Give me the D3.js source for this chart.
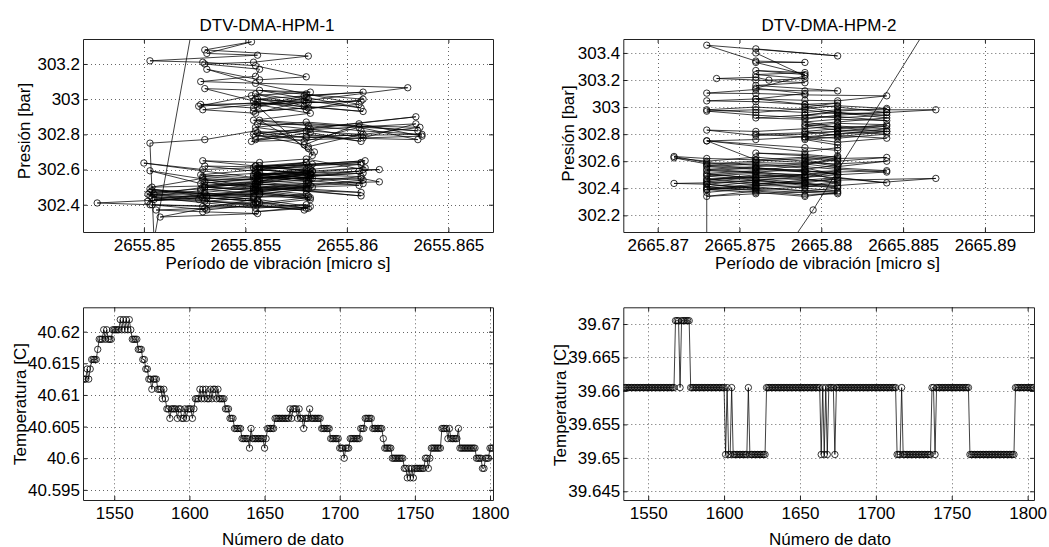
<!DOCTYPE html>
<html>
<head>
<meta charset="utf-8">
<script src="https://cdn.jsdelivr.net/npm/d3@7"></script>
<style>
  body { margin: 0; background: #fff; }
  svg text { font-family: "Liberation Sans", Arial, Helvetica, sans-serif; font-size: 17px; fill: #000; }
</style>
</head>
<body>
<svg id="fig"></svg>
<script>
// --- HPM-1: periodo de vibracion vs presion ---
const periodHPM1 = [
  2655.8533, 2655.8505, 2655.8503, 2655.853, 2655.8555, 2655.858, 2655.8608, 2655.8636, 2655.8556, 2655.8581,
  2655.8634, 2655.8554, 2655.8579, 2655.8606, 2655.8637, 2655.8553, 2655.8582, 2655.8607, 2655.8555, 2655.858,
  2655.8635, 2655.8557, 2655.8581, 2655.8583, 2655.8556, 2655.8579, 2655.8608, 2655.8555, 2655.8581, 2655.8528,
  2655.8554, 2655.858, 2655.8607, 2655.8555, 2655.8579, 2655.8608, 2655.8556, 2655.8527, 2655.8553, 2655.8582,
  2655.853, 2655.8554, 2655.858, 2655.8608, 2655.8557, 2655.8581, 2655.8529, 2655.8555, 2655.8579, 2655.863,
  2655.8528, 2655.8555, 2655.8557, 2655.853, 2655.8554, 2655.8581, 2655.853, 2655.8553, 2655.8531, 2655.8556,
  2655.8503, 2655.8529, 2655.8555, 2655.858, 2655.8557, 2655.8531, 2655.8555, 2655.858, 2655.8606, 2655.8554,
  2655.8581, 2655.8556, 2655.858, 2655.8607, 2655.8555, 2655.8582, 2655.8554, 2655.8581, 2655.8607, 2655.8637,
  2655.858, 2655.8555, 2655.8582, 2655.8608, 2655.8634, 2655.8556, 2655.8579, 2655.8606, 2655.8635, 2655.8555,
  2655.858, 2655.8607, 2655.8581, 2655.8584, 2655.858, 2655.8554, 2655.8529, 2655.85, 2655.8557, 2655.8582,
  2655.8528, 2655.8503, 2655.8555, 2655.853, 2655.8504, 2655.8554, 2655.8527, 2655.8502, 2655.8556, 2655.8531,
  2655.8477, 2655.8503, 2655.8529, 2655.8555, 2655.8505, 2655.853, 2655.8554, 2655.8581, 2655.8503, 2655.8528,
  2655.8557, 2655.8504, 2655.8531, 2655.8555, 2655.858, 2655.8506, 2655.8529, 2655.8556, 2655.8508, 2655.853,
  2655.8554, 2655.8503, 2655.8528, 2655.8557, 2655.8582, 2655.8505, 2655.853, 2655.8555, 2655.8502, 2655.8529,
  2655.8556, 2655.8581, 2655.8504, 2655.8531, 2655.8554, 2655.8579, 2655.8503, 2655.8528, 2655.8555, 2655.858,
  2655.8607, 2655.8556, 2655.853, 2655.8554, 2655.8581, 2655.8504, 2655.8529, 2655.8557, 2655.8582, 2655.8608,
  2655.8555, 2655.8528, 2655.8556, 2655.858, 2655.8609, 2655.8554, 2655.8581, 2655.853, 2655.8556, 2655.8582,
  2655.8607, 2655.8555, 2655.8529, 2655.8557, 2655.858, 2655.8608, 2655.8616, 2655.8582, 2655.8555, 2655.8607,
  2655.8616, 2655.858, 2655.8556, 2655.8529, 2655.8557, 2655.8583, 2655.8608, 2655.8554, 2655.858, 2655.8607,
  2655.853, 2655.8555, 2655.8581, 2655.8606, 2655.8556, 2655.8582, 2655.853, 2655.8555, 2655.8583, 2655.8609,
  2655.8557, 2655.858, 2655.8554, 2655.8581, 2655.8607, 2655.8555, 2655.8582, 2655.8529, 2655.8556, 2655.858,
  2655.8554, 2655.8581, 2655.8557, 2655.858, 2655.8555, 2655.8582, 2655.8556, 2655.8531, 2655.8557, 2655.8583,
  2655.8556, 2655.8582, 2655.8555, 2655.8581, 2655.8607, 2655.8557, 2655.8583, 2655.8556, 2655.858, 2655.8606,
  2655.8555, 2655.858, 2655.8554, 2655.853, 2655.8556, 2655.8582, 2655.8557, 2655.8581, 2655.8555, 2655.8529,
  2655.8556, 2655.8582, 2655.8608, 2655.8556, 2655.8583, 2655.8555, 2655.858, 2655.8557, 2655.8582, 2655.8554
];
const pressureHPM1 = [
  304.0, 302.2, 302.75, 302.77, 302.82, 302.78, 302.80, 302.84, 302.86, 302.83,
  302.90, 302.80, 302.74, 302.86, 302.79, 302.76, 302.81, 302.76, 302.84, 302.87,
  302.82, 302.88, 302.72, 302.68, 302.96, 303.02, 303.04, 303.0, 302.98, 302.97,
  302.95, 303.01, 302.95, 303.03, 302.96, 302.93, 302.98, 302.96, 303.02, 303.04,
  303.06, 302.99, 302.94, 303.00, 303.05, 303.00, 302.94, 302.92, 302.99, 303.065,
  303.1, 303.13, 303.17, 303.2, 303.21, 303.245, 303.28, 303.326, 303.26, 303.25,
  303.218, 303.21, 303.19, 303.127, 303.11, 303.17, 303.09, 303.03, 302.97, 302.93,
  302.95, 303.0, 302.98, 302.99, 302.97, 302.92, 302.88, 302.85, 302.82, 302.80,
  302.79, 302.77, 302.83, 302.78, 302.86, 302.81, 302.76, 302.84, 302.77, 302.79,
  302.82, 302.80, 302.73, 302.70, 302.64, 302.61, 302.60, 302.637, 302.55, 302.58,
  302.52, 302.593, 302.50, 302.47, 302.48, 302.45, 302.43, 302.46, 302.42, 302.44,
  302.41, 302.40, 302.39, 302.41, 302.43, 302.46, 302.48, 302.45, 302.47, 302.49,
  302.46, 302.44, 302.41, 302.38, 302.40, 302.37, 302.36, 302.35, 302.33, 302.38,
  302.43, 302.49, 302.45, 302.47, 302.44, 302.46, 302.50, 302.48, 302.42, 302.44,
  302.42, 302.38, 302.40, 302.37, 302.40, 302.37, 302.45, 302.48, 302.51, 302.48,
  302.45, 302.50, 302.53, 302.49, 302.52, 302.50, 302.55, 302.53, 302.56, 302.58,
  302.55, 302.57, 302.60, 302.58, 302.61, 302.57, 302.54, 302.51, 302.53, 302.60,
  302.63, 302.62, 302.65, 302.64, 302.66, 302.60, 302.60, 302.57, 302.55, 302.55,
  302.53, 302.52, 302.54, 302.56, 302.58, 302.55, 302.52, 302.50, 302.49, 302.47,
  302.50, 302.52, 302.56, 302.59, 302.57, 302.61, 302.62, 302.59, 302.63, 302.65,
  302.61, 302.60, 302.56, 302.53, 302.56, 302.58, 302.55, 302.54, 302.52, 302.50,
  302.47, 302.44, 302.41, 302.38, 302.36, 302.39, 302.43, 302.45, 302.48, 302.50,
  302.53, 302.58, 302.60, 302.62, 302.64, 302.62, 302.59, 302.57, 302.54, 302.51,
  302.49, 302.46, 302.44, 302.42, 302.40, 302.43, 302.46, 302.49, 302.52, 302.50,
  302.48, 302.51, 302.54, 302.56, 302.59, 302.62, 302.64, 302.60, 302.57, 302.55
];

// --- HPM-2: periodo de vibracion vs presion ---
const periodHPM2 = [
  2665.8886, 2665.8795, 2665.8778, 2665.873, 2665.873, 2665.876, 2665.873, 2665.871, 2665.873, 2665.876,
  2665.879, 2665.881, 2665.876, 2665.873, 2665.876, 2665.879, 2665.873, 2665.876, 2665.879, 2665.881,
  2665.876, 2665.873, 2665.876, 2665.879, 2665.881, 2665.873, 2665.876, 2665.879, 2665.881, 2665.884,
  2665.879, 2665.873, 2665.876, 2665.879, 2665.881, 2665.876, 2665.873, 2665.876, 2665.879, 2665.881,
  2665.879, 2665.876, 2665.873, 2665.876, 2665.881, 2665.887, 2665.881, 2665.879, 2665.876, 2665.873,
  2665.876, 2665.879, 2665.881, 2665.884, 2665.881, 2665.879, 2665.876, 2665.873, 2665.871, 2665.873,
  2665.876, 2665.879, 2665.881, 2665.884, 2665.881, 2665.879, 2665.876, 2665.873, 2665.871, 2665.873,
  2665.876, 2665.879, 2665.881, 2665.884, 2665.881, 2665.879, 2665.876, 2665.879, 2665.881, 2665.879,
  2665.876, 2665.873, 2665.876, 2665.879, 2665.881, 2665.876, 2665.873, 2665.876, 2665.879, 2665.881,
  2665.879, 2665.876, 2665.873, 2665.876, 2665.879, 2665.881, 2665.884, 2665.881, 2665.879, 2665.876,
  2665.873, 2665.876, 2665.879, 2665.881, 2665.879, 2665.881, 2665.881, 2665.879, 2665.873, 2665.876,
  2665.879, 2665.881, 2665.884, 2665.881, 2665.879, 2665.876, 2665.873, 2665.876, 2665.879, 2665.881,
  2665.884, 2665.881, 2665.879, 2665.881, 2665.884, 2665.881, 2665.879, 2665.881, 2665.884, 2665.881,
  2665.879, 2665.881, 2665.884, 2665.881, 2665.879, 2665.881, 2665.884, 2665.881, 2665.879, 2665.876,
  2665.873, 2665.876, 2665.879, 2665.881, 2665.884, 2665.887, 2665.884, 2665.881, 2665.879, 2665.876,
  2665.873, 2665.876, 2665.879, 2665.881, 2665.884, 2665.881, 2665.879, 2665.881, 2665.884, 2665.881,
  2665.879, 2665.881, 2665.879, 2665.876, 2665.873, 2665.876, 2665.879, 2665.881, 2665.884, 2665.879,
  2665.876, 2665.873, 2665.876, 2665.879, 2665.881, 2665.876, 2665.879, 2665.876, 2665.8736, 2665.876,
  2665.8768, 2665.879, 2665.876, 2665.879, 2665.876, 2665.879, 2665.876, 2665.879, 2665.876, 2665.873,
  2665.881, 2665.876, 2665.876, 2665.879, 2665.876, 2665.879, 2665.876, 2665.879, 2665.881, 2665.884,
  2665.881, 2665.879, 2665.876, 2665.879, 2665.881, 2665.884, 2665.881, 2665.879, 2665.881, 2665.884,
  2665.881, 2665.879, 2665.876, 2665.879, 2665.881, 2665.884, 2665.881, 2665.879, 2665.881, 2665.881,
  2665.879, 2665.873, 2665.876, 2665.879, 2665.881, 2665.879, 2665.876, 2665.873, 2665.876, 2665.879,
  2665.881, 2665.879, 2665.876, 2665.873, 2665.876, 2665.879, 2665.881, 2665.879, 2665.876, 2665.873,
  2665.876, 2665.879, 2665.881, 2665.876, 2665.873, 2665.876, 2665.879, 2665.881, 2665.879, 2665.876
];
const pressureHPM2 = [
  304.0, 302.24, 301.94, 301.9, 302.37, 302.40, 302.43, 302.436, 302.44, 302.46,
  302.42, 302.45, 302.48, 302.50, 302.52, 302.49, 302.47, 302.44, 302.40, 302.38,
  302.36, 302.34, 302.38, 302.35, 302.36, 302.40, 302.43, 302.46, 302.48, 302.44,
  302.50, 302.53, 302.55, 302.53, 302.51, 302.49, 302.46, 302.50, 302.47, 302.44,
  302.41, 302.39, 302.41, 302.45, 302.42, 302.473, 302.46, 302.52, 302.54, 302.56,
  302.58, 302.56, 302.54, 302.52, 302.50, 302.55, 302.57, 302.59, 302.635, 302.62,
  302.61, 302.59, 302.58, 302.6, 302.56, 302.60, 302.63, 302.60, 302.625, 302.58,
  302.60, 302.62, 302.60, 302.628, 302.62, 302.64, 302.66, 302.65, 302.63, 302.57,
  302.53, 302.51, 302.47, 302.44, 302.41, 302.42, 302.39, 302.41, 302.38, 302.40,
  302.43, 302.46, 302.49, 302.51, 302.48, 302.52, 302.53, 302.55, 302.58, 302.56,
  302.54, 302.52, 302.54, 302.57, 302.61, 302.64, 302.68, 302.70, 302.75, 302.76,
  302.78, 302.77, 302.80, 302.82, 302.80, 302.79, 302.83, 302.82, 302.84, 302.86,
  302.84, 302.80, 302.77, 302.74, 302.77, 302.79, 302.82, 302.84, 302.87, 302.88,
  302.86, 302.83, 302.82, 302.85, 302.89, 302.91, 302.90, 302.93, 302.92, 302.94,
  302.97, 302.98, 302.96, 302.98, 302.98, 302.98, 302.96, 302.95, 302.98, 303.00,
  302.98, 302.96, 302.99, 303.01, 302.99, 302.97, 302.94, 302.92, 302.94, 302.96,
  303.00, 303.03, 303.02, 303.04, 303.046, 303.06, 303.05, 303.046, 303.083, 303.09,
  303.10, 303.103, 303.13, 303.12, 303.12, 303.16, 303.18, 303.20, 303.211, 303.22,
  303.199, 303.21, 303.24, 303.255, 303.27, 303.24, 303.33, 303.33, 303.34, 303.457,
  303.378, 303.43, 303.40, 303.23, 303.14, 303.10, 303.06, 303.02, 303.00, 302.96,
  302.94, 302.91, 302.92, 302.94, 302.96, 302.92, 302.89, 302.87, 302.85, 302.86,
  302.82, 302.81, 302.80, 302.78, 302.80, 302.82, 302.78, 302.76, 302.72, 302.70,
  302.67, 302.751, 302.61, 302.63, 302.61, 302.58, 302.59, 302.57, 302.55, 302.52,
  302.53, 302.50, 302.48, 302.45, 302.43, 302.45, 302.47, 302.44, 302.42, 302.39,
  302.37, 302.34, 302.37, 302.40, 302.43, 302.46, 302.48, 302.50, 302.53, 302.55
];

// --- Temperaturas por numero de dato ---
const firstSampleHPM1 = 1529;
const temperatureHPM1 = [
  40.6125, 40.6125, 40.6125, 40.6141, 40.6125, 40.6141, 40.6156, 40.6156, 40.6156, 40.6156,
  40.6172, 40.6188, 40.6188, 40.6188, 40.6203, 40.6188, 40.6203, 40.6188, 40.6188, 40.6188,
  40.6203, 40.6203, 40.6203, 40.6203, 40.6203, 40.6219, 40.6203, 40.6219, 40.6203, 40.6219,
  40.6203, 40.6219, 40.6203, 40.6188, 40.6188, 40.6188, 40.6188, 40.6172, 40.6172, 40.6172,
  40.6156, 40.6156, 40.6141, 40.6141, 40.6125, 40.6125, 40.6109, 40.6125, 40.6125, 40.6125,
  40.6109, 40.6109, 40.6109, 40.6094, 40.6109, 40.6094, 40.6078, 40.6078, 40.6063, 40.6078,
  40.6078, 40.6078, 40.6078, 40.6063, 40.6078, 40.6078, 40.6063, 40.6063, 40.6078, 40.6063,
  40.6078, 40.6078, 40.6078, 40.6063, 40.6078, 40.6094, 40.6094, 40.6094, 40.6109, 40.6094,
  40.6109, 40.6094, 40.6109, 40.6094, 40.6094, 40.6109, 40.6094, 40.6109, 40.6109, 40.6094,
  40.6109, 40.6094, 40.6094, 40.6094, 40.6094, 40.6078, 40.6078, 40.6078, 40.6063, 40.6063,
  40.6063, 40.6047, 40.6047, 40.6047, 40.6047, 40.6047, 40.6031, 40.6031, 40.6031, 40.6031,
  40.6031, 40.6016, 40.6047, 40.6031, 40.6031, 40.6031, 40.6031, 40.6031, 40.6031, 40.6031,
  40.6031, 40.6016, 40.6031, 40.6047, 40.6047, 40.6047, 40.6047, 40.6047, 40.6063, 40.6063,
  40.6063, 40.6063, 40.6063, 40.6063, 40.6063, 40.6063, 40.6063, 40.6063, 40.6078, 40.6063,
  40.6078, 40.6078, 40.6078, 40.6063, 40.6078, 40.6063, 40.6063, 40.6047, 40.6063, 40.6063,
  40.6063, 40.6078, 40.6063, 40.6063, 40.6063, 40.6063, 40.6063, 40.6063, 40.6063, 40.6047,
  40.6047, 40.6047, 40.6047, 40.6047, 40.6047, 40.6031, 40.6031, 40.6031, 40.6031, 40.6031,
  40.6031, 40.6016, 40.6016, 40.6016, 40.6, 40.6016, 40.6016, 40.6016, 40.6031, 40.6031,
  40.6031, 40.6031, 40.6031, 40.6031, 40.6031, 40.6047, 40.6047, 40.6047, 40.6063, 40.6063,
  40.6063, 40.6063, 40.6063, 40.6047, 40.6047, 40.6047, 40.6047, 40.6047, 40.6047, 40.6047,
  40.6031, 40.6016, 40.6016, 40.6016, 40.6016, 40.6016, 40.6, 40.6, 40.6, 40.6,
  40.6, 40.6, 40.6, 40.6, 40.5984, 40.5984, 40.5969, 40.5984, 40.5969, 40.5984,
  40.5969, 40.5984, 40.5984, 40.5984, 40.5984, 40.5984, 40.5984, 40.5984, 40.6, 40.6,
  40.5984, 40.6, 40.6016, 40.6016, 40.6016, 40.6016, 40.6016, 40.6016, 40.6016, 40.6047,
  40.6047, 40.6047, 40.6047, 40.6031, 40.6047, 40.6031, 40.6031, 40.6031, 40.6031, 40.6031,
  40.6047, 40.6016, 40.6016, 40.6016, 40.6016, 40.6016, 40.6016, 40.6016, 40.6016, 40.6016,
  40.6016, 40.6016, 40.6, 40.6, 40.6, 40.6, 40.5984, 40.5984, 40.6, 40.6,
  40.6, 40.6016, 40.6016, 40.6016
];

const firstSampleHPM2 = 1534;
const temperatureHPM2 = [
  39.6605, 39.6605, 39.6605, 39.6605, 39.6605, 39.6605, 39.6605, 39.6605, 39.6605, 39.6605,
  39.6605, 39.6605, 39.6605, 39.6605, 39.6605, 39.6605, 39.6605, 39.6605, 39.6605, 39.6605,
  39.6605, 39.6605, 39.6605, 39.6605, 39.6605, 39.6605, 39.6605, 39.6605, 39.6605, 39.6605,
  39.6605, 39.6605, 39.6605, 39.6605, 39.6705, 39.6705, 39.6705, 39.6605, 39.6705, 39.6705,
  39.6705, 39.6705, 39.6705, 39.6705, 39.6605, 39.6605, 39.6605, 39.6605, 39.6605, 39.6605,
  39.6605, 39.6605, 39.6605, 39.6605, 39.6605, 39.6605, 39.6605, 39.6605, 39.6605, 39.6605,
  39.6605, 39.6605, 39.6605, 39.6605, 39.6605, 39.6605, 39.6605, 39.6505, 39.6605, 39.6505,
  39.6505, 39.6605, 39.6505, 39.6505, 39.6505, 39.6505, 39.6505, 39.6505, 39.6505, 39.6505,
  39.6505, 39.6505, 39.6605, 39.6505, 39.6505, 39.6505, 39.6505, 39.6505, 39.6505, 39.6505,
  39.6505, 39.6505, 39.6505, 39.6505, 39.6605, 39.6605, 39.6605, 39.6605, 39.6605, 39.6605,
  39.6605, 39.6605, 39.6605, 39.6605, 39.6605, 39.6605, 39.6605, 39.6605, 39.6605, 39.6605,
  39.6605, 39.6605, 39.6605, 39.6605, 39.6605, 39.6605, 39.6605, 39.6605, 39.6605, 39.6605,
  39.6605, 39.6605, 39.6605, 39.6605, 39.6605, 39.6605, 39.6605, 39.6605, 39.6605, 39.6605,
  39.6505, 39.6605, 39.6505, 39.6605, 39.6505, 39.6605, 39.6605, 39.6605, 39.6605, 39.6505,
  39.6605, 39.6605, 39.6605, 39.6605, 39.6605, 39.6605, 39.6605, 39.6605, 39.6605, 39.6605,
  39.6605, 39.6605, 39.6605, 39.6605, 39.6605, 39.6605, 39.6605, 39.6605, 39.6605, 39.6605,
  39.6605, 39.6605, 39.6605, 39.6605, 39.6605, 39.6605, 39.6605, 39.6605, 39.6605, 39.6605,
  39.6605, 39.6605, 39.6605, 39.6605, 39.6605, 39.6605, 39.6605, 39.6605, 39.6605, 39.6605,
  39.6505, 39.6505, 39.6505, 39.6605, 39.6505, 39.6505, 39.6505, 39.6505, 39.6505, 39.6505,
  39.6505, 39.6505, 39.6505, 39.6505, 39.6505, 39.6505, 39.6505, 39.6505, 39.6505, 39.6505,
  39.6505, 39.6505, 39.6505, 39.6605, 39.6605, 39.6505, 39.6605, 39.6605, 39.6605, 39.6605,
  39.6605, 39.6605, 39.6605, 39.6605, 39.6605, 39.6605, 39.6605, 39.6605, 39.6605, 39.6605,
  39.6605, 39.6605, 39.6605, 39.6605, 39.6605, 39.6605, 39.6605, 39.6605, 39.6505, 39.6505,
  39.6505, 39.6505, 39.6505, 39.6505, 39.6505, 39.6505, 39.6505, 39.6505, 39.6505, 39.6505,
  39.6505, 39.6505, 39.6505, 39.6505, 39.6505, 39.6505, 39.6505, 39.6505, 39.6505, 39.6505,
  39.6505, 39.6505, 39.6505, 39.6505, 39.6505, 39.6505, 39.6505, 39.6505, 39.6605, 39.6605,
  39.6605, 39.6605, 39.6605, 39.6605, 39.6605, 39.6605, 39.6605, 39.6605, 39.6605, 39.6605,
  39.6605
];

// ticks
const periodTicksHPM1 = [2655.85, 2655.855, 2655.86, 2655.865];
const pressureTicksHPM1 = [302.4, 302.6, 302.8, 303, 303.2];
const periodTicksHPM2 = [2665.87, 2665.875, 2665.88, 2665.885, 2665.89];
const pressureTicksHPM2 = [302.2, 302.4, 302.6, 302.8, 303, 303.2, 303.4];
const sampleTicks = [1550, 1600, 1650, 1700, 1750, 1800];
const tempTicksHPM1 = [40.595, 40.6, 40.605, 40.61, 40.615, 40.62];
const tempTicksHPM2 = [39.645, 39.65, 39.655, 39.66, 39.665, 39.67];

const svg = d3.select("#fig").attr("width", 1049).attr("height", 547);
svg.append("rect").attr("width", 1049).attr("height", 547).attr("fill", "#fff");

const panels = [
  {
    id: "p1", left: 83, right: 493, top: 39, bottom: 232,
    xDomain: [2655.847, 2655.8672], yDomain: [302.245, 303.342],
    xTicks: periodTicksHPM1, yTicks: pressureTicksHPM1,
    points: periodHPM1.map((d, i) => [d, pressureHPM1[i]]),
    title: "DTV-DMA-HPM-1", titleX: 267,
    xLabel: "Período de vibración [micro s]", xLabelX: 278, xLabelY: 268.5, tickPad: 6.5,
    yLabel: "Presión [bar]", yLabelX: 29.5, yLabelY: 131
  },
  {
    id: "p2", left: 623.3, right: 1034, top: 39, bottom: 232,
    xDomain: [2665.8679, 2665.893], yDomain: [302.077, 303.503],
    xTicks: periodTicksHPM2, yTicks: pressureTicksHPM2,
    points: periodHPM2.map((d, i) => [d, pressureHPM2[i]]),
    title: "DTV-DMA-HPM-2", titleX: 829,
    xLabel: "Período de vibración [micro s]", xLabelX: 827.5, xLabelY: 268.5, tickPad: 6.5,
    yLabel: "Presión [bar]", yLabelX: 574, yLabelY: 133.5
  },
  {
    id: "p3", left: 83, right: 493, top: 307.3, bottom: 500,
    xDomain: [1529.2, 1802], yDomain: [40.5934, 40.62385],
    xTicks: sampleTicks, yTicks: tempTicksHPM1,
    points: temperatureHPM1.map((d, i) => [firstSampleHPM1 + i, d]),
    xLabel: "Número de dato", xLabelX: 283, xLabelY: 544.5, tickPad: 6.5,
    yLabel: "Temperatura [C]", yLabelX: 25.5, yLabelY: 404
  },
  {
    id: "p4", left: 623.3, right: 1034, top: 307.3, bottom: 500,
    xDomain: [1533.6, 1804.2], yDomain: [39.6437, 39.6725],
    xTicks: sampleTicks, yTicks: tempTicksHPM2,
    points: temperatureHPM2.map((d, i) => [firstSampleHPM2 + i, d]),
    xLabel: "Número de dato", xLabelX: 830, xLabelY: 544.5, tickPad: 6.5,
    yLabel: "Temperatura [C]", yLabelX: 565.5, yLabelY: 405
  }
];

panels.forEach(p => {
  const x = d3.scaleLinear().domain(p.xDomain).range([p.left, p.right]);
  const y = d3.scaleLinear().domain(p.yDomain).range([p.bottom, p.top]);
  const g = svg.append("g");

  g.append("clipPath").attr("id", "clip-" + p.id)
    .append("rect")
    .attr("x", p.left).attr("y", p.top)
    .attr("width", p.right - p.left).attr("height", p.bottom - p.top);

  // grid
  const grid = g.append("g")
    .attr("stroke", "#666")
    .attr("stroke-width", 1)
    .attr("stroke-dasharray", "1,3");
  grid.selectAll(".gx").data(p.xTicks).join("line")
    .attr("x1", d => Math.round(x(d)) + 0.5).attr("x2", d => Math.round(x(d)) + 0.5)
    .attr("y1", p.top).attr("y2", p.bottom);
  grid.selectAll(".gy").data(p.yTicks).join("line")
    .attr("y1", d => Math.round(y(d)) + 0.5).attr("y2", d => Math.round(y(d)) + 0.5)
    .attr("x1", p.left).attr("x2", p.right);

  // data
  const plot = g.append("g").attr("clip-path", `url(#clip-${p.id})`);
  plot.append("path")
    .datum(p.points)
    .attr("fill", "none")
    .attr("stroke", "#000")
    .attr("stroke-width", 0.75)
    .attr("d", d3.line().x(d => x(d[0])).y(d => y(d[1])));
  plot.selectAll("circle").data(p.points).join("circle")
    .attr("cx", d => x(d[0]))
    .attr("cy", d => y(d[1]))
    .attr("r", 3.2)
    .attr("fill", "none")
    .attr("stroke", "#000")
    .attr("stroke-width", 0.8);

  // axes (ticks inside, MATLAB style)
  const axisB = g.append("g").attr("transform", `translate(0,${p.bottom})`)
    .call(d3.axisBottom(x).tickValues(p.xTicks).tickFormat(d => String(d))
      .tickSize(-4).tickSizeOuter(0).tickPadding(p.tickPad));
  const axisL = g.append("g").attr("transform", `translate(${p.left},0)`)
    .call(d3.axisLeft(y).tickValues(p.yTicks).tickFormat(d => String(d))
      .tickSize(-4).tickSizeOuter(0).tickPadding(3));
  const axisT = g.append("g").attr("transform", `translate(0,${p.top})`)
    .call(d3.axisTop(x).tickValues(p.xTicks).tickFormat("").tickSize(-4).tickSizeOuter(0));
  const axisR = g.append("g").attr("transform", `translate(${p.right},0)`)
    .call(d3.axisRight(y).tickValues(p.yTicks).tickFormat("").tickSize(-4).tickSizeOuter(0));
  [axisB, axisL, axisT, axisR].forEach(a => {
    a.selectAll("path, line").attr("stroke", "#222");
  });

  // labels
  if (p.title) {
    g.append("text").attr("x", p.titleX).attr("y", 30.5)
      .attr("text-anchor", "middle").text(p.title);
  }
  g.append("text").attr("x", p.xLabelX).attr("y", p.xLabelY)
    .attr("text-anchor", "middle").text(p.xLabel);
  g.append("text")
    .attr("transform", `translate(${p.yLabelX},${p.yLabelY}) rotate(-90)`)
    .attr("text-anchor", "middle").text(p.yLabel);
});
</script>
</body>
</html>
